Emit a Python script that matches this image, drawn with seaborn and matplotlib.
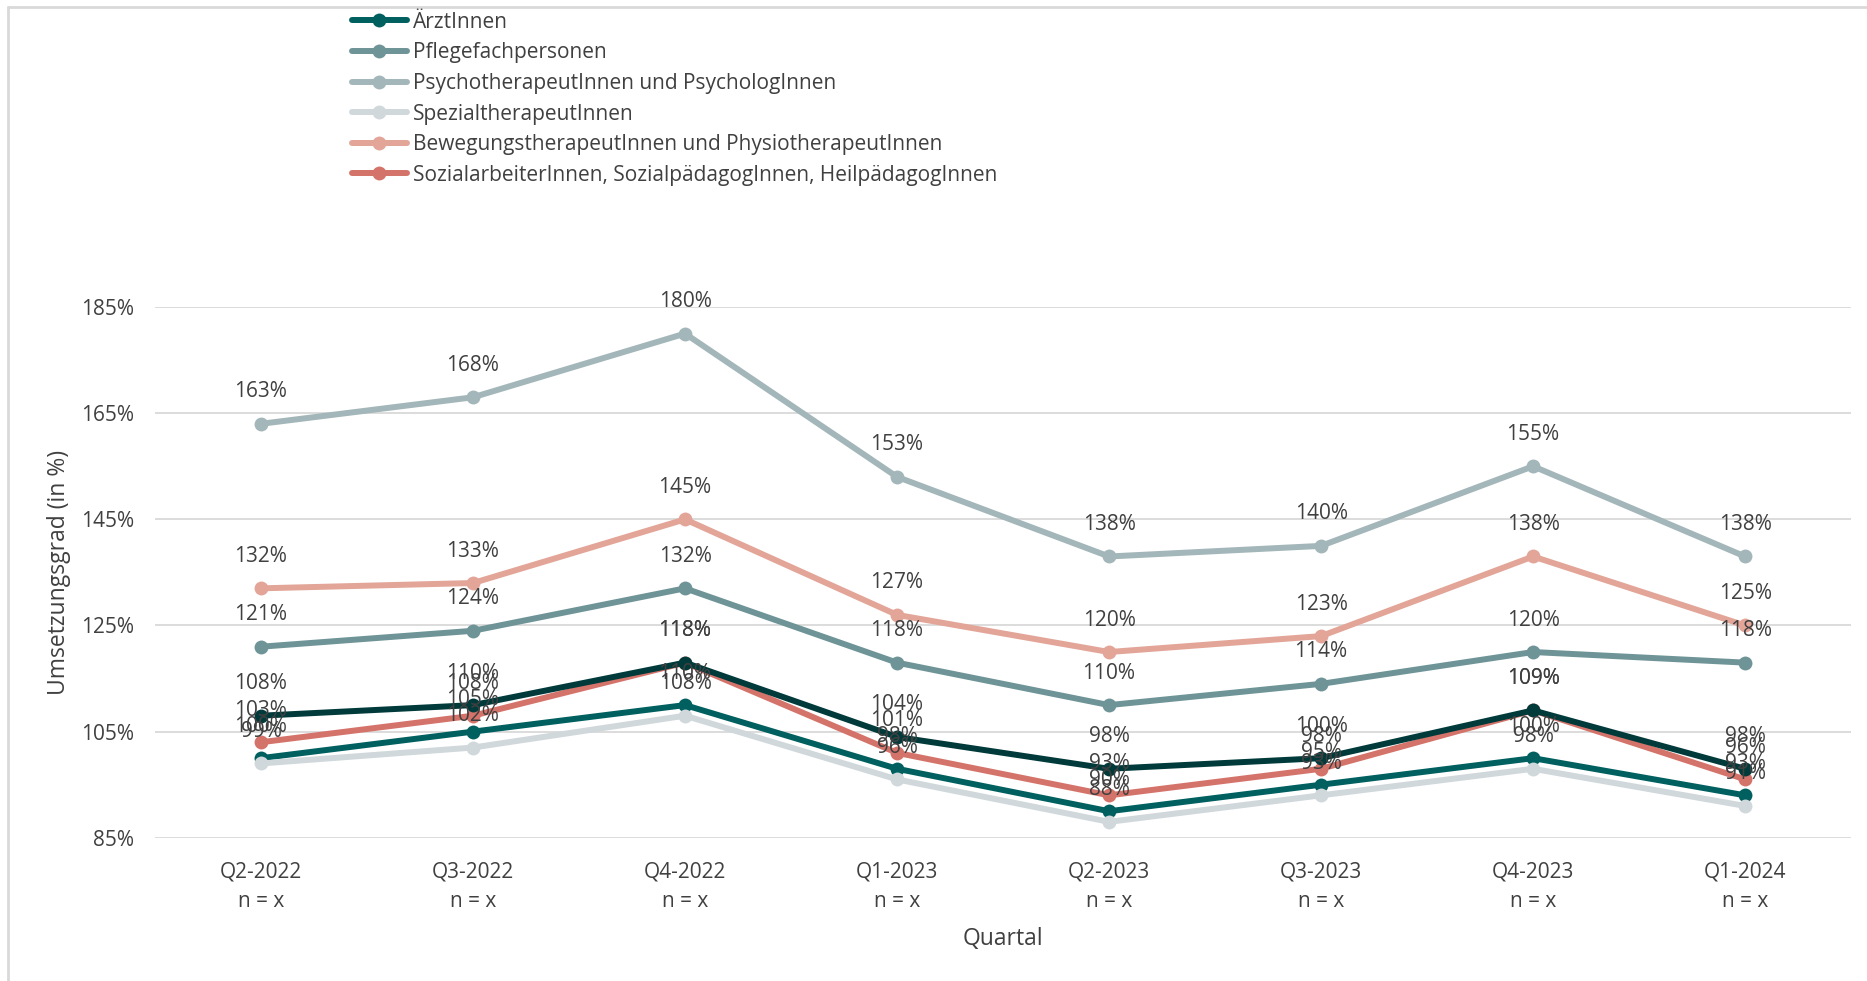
import pandas as pd
import seaborn as sns
import matplotlib.pyplot as plt
from matplotlib.lines import Line2D

# data
quartale = ['Q2-2022', 'Q3-2022', 'Q4-2022', 'Q1-2023', 'Q2-2023', 'Q3-2023', 'Q4-2023', 'Q1-2024']
tick_labels = [q + '\nn = x' for q in quartale]

aerzte = [100, 105, 110, 98, 90, 95, 100, 93]
pflege = [121, 124, 132, 118, 110, 114, 120, 118]
psycho = [163, 168, 180, 153, 138, 140, 155, 138]
spezial = [99, 102, 108, 96, 88, 93, 98, 91]
bewegung = [132, 133, 145, 127, 120, 123, 138, 125]
sozial = [103, 108, 118, 101, 93, 98, 109, 96]
gesamt = [108, 110, 118, 104, 98, 100, 109, 98]

series = [
    ('ÄrztInnen', aerzte, '#005f5f'),
    ('Pflegefachpersonen', pflege, '#6e9497'),
    ('PsychotherapeutInnen und PsychologInnen', psycho, '#a3b6b9'),
    ('SpezialtherapeutInnen', spezial, '#d0d8db'),
    ('BewegungstherapeutInnen und PhysiotherapeutInnen', bewegung, '#e2a598'),
    ('SozialarbeiterInnen, SozialpädagogInnen, HeilpädagogInnen', sozial, '#d4736a'),
    ('Gesamt', gesamt, '#013a3a'),
]

sns.set_style('white')
plt.rcParams['font.family'] = ['Open Sans', 'DejaVu Sans']
txt = '#404040'

fig = plt.figure(figsize=(18.67, 9.81), dpi=100)
ax = fig.add_axes([0.083, 0.146, 0.9085, 0.541])

for name, vals, col in series:
    d = pd.DataFrame({'q': quartale, 'v': vals})
    sns.lineplot(data=d, x='q', y='v', color=col, lw=4.3, marker='o', markersize=10,
                 markeredgewidth=0, ax=ax, sort=False, clip_on=False)

# data labels above the points
for name, vals, col in series:
    for i, v in enumerate(vals):
        ax.annotate(f'{v}%', (i, v), xytext=(0, 23), textcoords='offset points',
                    ha='center', va='center', fontsize=15, color=txt,
                    annotation_clip=False)

ax.set_xlim(-0.5, 7.5)
ax.set_ylim(85, 185)
ax.set_yticks([85, 105, 125, 145, 165, 185])
ax.set_yticklabels([f'{t}%' for t in [85, 105, 125, 145, 165, 185]])
ax.set_xticks(range(len(quartale)))
ax.set_xticklabels(tick_labels, linespacing=1.55)
ax.tick_params(axis='both', labelsize=15, colors=txt, length=0)
ax.tick_params(axis='x', pad=17)
ax.tick_params(axis='y', pad=15)
ax.yaxis.grid(True, color='#d9d9d9', lw=1.3)
ax.set_axisbelow(True)
for s in ax.spines.values():
    s.set_visible(False)
ax.set_xlabel('Quartal', fontsize=16.5, color=txt, labelpad=11)
ax.set_ylabel('Umsetzungsgrad (in %)', fontsize=16.5, color=txt, labelpad=7)

handles = [Line2D([], [], color=c, lw=4.3, marker='o', markersize=10, markeredgewidth=0)
           for n, v, c in series[:6]]
fig.legend(handles, [n for n, v, c in series[:6]], loc='upper left',
           bbox_to_anchor=(0.1885, 0.988), frameon=False, fontsize=15,
           handlelength=2.64, handletextpad=0.27, labelspacing=0.46,
           borderpad=0, borderaxespad=0, labelcolor=txt)

# outer frame
fig.add_artist(Line2D([0.0045, 1], [0.9925, 0.9925], color='#d9d9d9', lw=2, transform=fig.transFigure))
fig.add_artist(Line2D([0.0045, 0.0045], [0, 0.9925], color='#d9d9d9', lw=2, transform=fig.transFigure))

fig.savefig('out.png', dpi=100)
